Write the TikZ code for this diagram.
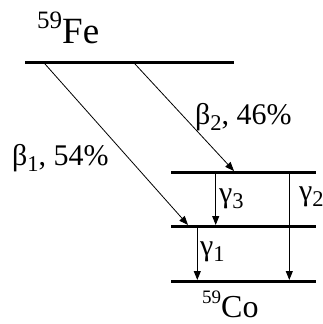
\documentclass[tikz,border=0pt]{standalone}
\usepackage{fontspec}
\setmainfont{Liberation Serif}
\usetikzlibrary{arrows.meta}
\newcommand{\lowsub}[1]{\raisebox{-0.22em}{\fontsize{0.75\dimexpr\fontdimen6\font\relax}{1em}\selectfont #1}}
\begin{document}
\begin{tikzpicture}[x=1pt,y=-1pt,
  level/.style={line width=3pt},
  trans/.style={line width=0.8pt,-{Triangle[length=9pt,width=7pt]}},
  lbl/.style={inner sep=0pt,anchor=base west},
  big/.style={font=\fontsize{30}{32}\selectfont},
  mid/.style={font=\fontsize{30}{32}\selectfont}]
\useasboundingbox (0,0) rectangle (323,324);
% level end points
\coordinate (feL) at (25,62.5);
\coordinate (feR) at (234,62.5);
\coordinate (uL) at (171,172.5);
\coordinate (uR) at (316,172.5);
\coordinate (mL) at (171,226.5);
\coordinate (mR) at (316,226.5);
\coordinate (gL) at (171,281.5);
\coordinate (gR) at (316,281.5);
\draw[level] (feL) -- (feR);
\draw[level] (uL) -- (uR);
\draw[level] (mL) -- (mR);
\draw[level] (gL) -- (gR);
% transition end points
\coordinate (b1s) at (45,64);
\coordinate (b1e) at (188,225);
\coordinate (b2s) at (135,64);
\coordinate (b2e) at (234,171);
\coordinate (g3s) at (215.7,174);
\coordinate (g3e) at (215.7,225);
\coordinate (g2s) at (289.3,174);
\coordinate (g2e) at (289.3,280);
\coordinate (g1s) at (197.3,228);
\coordinate (g1e) at (197.3,280);
\draw[trans] (b1s) -- (b1e);
\draw[trans] (b2s) -- (b2e);
\draw[trans] (g3s) -- (g3e);
\draw[trans] (g2s) -- (g2e);
\draw[trans] (g1s) -- (g1e);
% labels
\node[lbl,font=\fontsize{37}{39}\selectfont] (fe) at (37,43) {\raisebox{0.38em}{\fontsize{25}{27}\selectfont 59}Fe};
\node[lbl,font=\fontsize{32}{34}\selectfont] (co) at (202,317) {\raisebox{0.42em}{\fontsize{19}{21}\selectfont 59}Co};
\node[lbl,big] (b1) at (12,165) {β\lowsub{1}, 54\%};
\node[lbl,big] (b2) at (195,124) {β\lowsub{2}, 46\%};
\node[lbl,mid] (g3) at (219,202) {γ\lowsub{3}};
\node[lbl,mid] (g2) at (299,200) {γ\lowsub{2}};
\node[lbl,mid] (g1) at (200,255) {γ\lowsub{1}};
\end{tikzpicture}
\end{document}
